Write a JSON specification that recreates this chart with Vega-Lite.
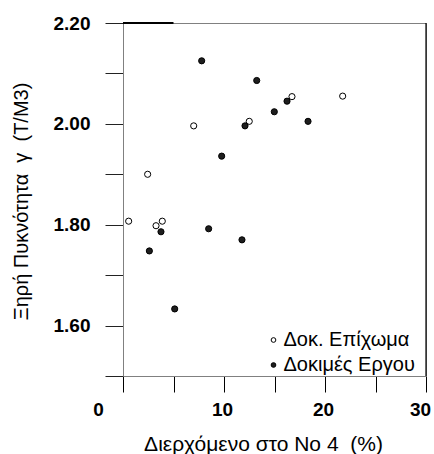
{
  "$schema": "https://vega.github.io/schema/vega-lite/v6.json",
  "width": 303,
  "height": 353,
  "autosize": {"type": "none"},
  "padding": {"left": 123, "top": 23, "right": 8, "bottom": 78},
  "background": "white",
  "config": {
    "view": {"stroke": "#808080", "strokeWidth": 1},
    "font": "Liberation Sans"
  },
  "datasets": {
    "pts": [
      {"x": 0.56, "y": 1.807, "s": "Δοκ. Επίχωμα"},
      {"x": 2.44, "y": 1.900, "s": "Δοκ. Επίχωμα"},
      {"x": 3.27, "y": 1.798, "s": "Δοκ. Επίχωμα"},
      {"x": 3.89, "y": 1.807, "s": "Δοκ. Επίχωμα"},
      {"x": 7.0, "y": 1.996, "s": "Δοκ. Επίχωμα"},
      {"x": 12.5, "y": 2.005, "s": "Δοκ. Επίχωμα"},
      {"x": 16.73, "y": 2.054, "s": "Δοκ. Επίχωμα"},
      {"x": 21.75, "y": 2.055, "s": "Δοκ. Επίχωμα"},
      {"x": 7.79, "y": 2.125, "s": "Δοκιμές Εργου"},
      {"x": 13.24, "y": 2.086, "s": "Δοκιμές Εργου"},
      {"x": 16.24, "y": 2.045, "s": "Δοκιμές Εργου"},
      {"x": 14.98, "y": 2.024, "s": "Δοκιμές Εργου"},
      {"x": 12.08, "y": 1.996, "s": "Δοκιμές Εργου"},
      {"x": 18.32, "y": 2.005, "s": "Δοκιμές Εργου"},
      {"x": 9.77, "y": 1.936, "s": "Δοκιμές Εργου"},
      {"x": 3.76, "y": 1.786, "s": "Δοκιμές Εργου"},
      {"x": 2.61, "y": 1.748, "s": "Δοκιμές Εργου"},
      {"x": 8.48, "y": 1.792, "s": "Δοκιμές Εργου"},
      {"x": 11.78, "y": 1.770, "s": "Δοκιμές Εργου"},
      {"x": 5.12, "y": 1.633, "s": "Δοκιμές Εργου"}
    ],
    "frame": [
      {"x": 30, "x2": 30, "y": 1.5, "y2": 2.2, "w": "r"},
      {"x": 0, "x2": 5, "y": 2.2, "y2": 2.2, "w": "t"}
    ]
  },
  "layer": [
    {
      "data": {"name": "frame"},
      "mark": {"type": "rule", "color": "black"},
      "encoding": {
        "x": {"field": "x", "type": "quantitative"},
        "x2": {"field": "x2"},
        "y": {"field": "y", "type": "quantitative"},
        "y2": {"field": "y2"},
        "strokeWidth": {"field": "w", "type": "nominal", "scale": {"domain": ["r", "t"], "range": [1.2, 2]}, "legend": null}
      }
    },
    {
      "data": {"name": "pts"},
      "mark": {"type": "point", "shape": "circle", "filled": true, "stroke": "black", "strokeWidth": 1, "size": 38, "opacity": 1},
      "encoding": {
        "x": {
          "field": "x", "type": "quantitative",
          "scale": {"domain": [0, 30], "nice": false, "zero": false},
          "axis": {
            "values": [0, 5, 10, 15, 20, 25, 30],
            "grid": false,
            "tickSize": 16,
            "tickColor": "black",
            "tickWidth": 1,
            "domainColor": "#808080",
            "labelExpr": "datum.value % 10 == 0 ? format(datum.value, 'd') : ''",
            "labelFont": "Liberation Sans",
            "labelFontSize": 19,
            "labelFontWeight": "bold",
            "labelColor": "black",
            "labelPadding": 8,
            "labelFlush": false,
            "labelOverlap": false,
            "labelOffset": {"condition": [{"test": "datum.value == 0", "value": -25}, {"test": "datum.value == 30", "value": -6}], "value": -2},
            "title": "Διερχόμενο στο Νο 4\u00a0\u00a0(%)",
            "titleFont": "Liberation Sans",
            "titleFontSize": 21,
            "titleFontWeight": "normal",
            "titleColor": "black",
            "titleX": 140,
            "titleY": 74,
            "titleAlign": "center",
            "titleBaseline": "alphabetic"
          }
        },
        "y": {
          "field": "y", "type": "quantitative",
          "scale": {"domain": [1.5, 2.2], "nice": false, "zero": false},
          "axis": {
            "values": [1.5, 1.6, 1.7, 1.8, 1.9, 2.0, 2.1, 2.2],
            "grid": false,
            "tickSize": 18,
            "tickColor": "#222",
            "domainColor": "#808080",
            "labelExpr": "(round(datum.value * 10) % 2 == 0 && datum.value > 1.55) ? format(datum.value, '.2f') : ''",
            "labelFont": "Liberation Sans",
            "labelFontSize": 19,
            "labelFontWeight": "bold",
            "labelColor": "black",
            "labelPadding": 15,
            "labelFlush": false,
            "labelOverlap": false,
            "title": "Ξηρή Πυκνότητα\u00a0\u00a0γ\u00a0\u00a0(Τ/Μ3)",
            "titleFont": "Liberation Sans",
            "titleFontSize": 20,
            "titleFontWeight": "normal",
            "titleColor": "black",
            "titleAngle": -90,
            "titleX": -96,
            "titleY": 178,
            "titleAlign": "center",
            "titleBaseline": "alphabetic"
          }
        },
        "fill": {
          "field": "s", "type": "nominal",
          "scale": {"domain": ["Δοκ. Επίχωμα", "Δοκιμές Εργου"], "range": ["white", "#1e1e1e"]},
          "legend": {
            "title": null,
            "orient": "none",
            "legendX": 140.5,
            "legendY": 307,
            "symbolType": "circle",
            "symbolSize": 22,
            "symbolStrokeColor": "black",
            "symbolStrokeWidth": 1,
            "labelFont": "Liberation Sans",
            "labelFontSize": 20,
            "labelColor": "black",
            "labelOffset": 0,
            "labelLimit": 300,
            "rowPadding": 5,
            "padding": 0
          }
        }
      }
    }
  ]
}
